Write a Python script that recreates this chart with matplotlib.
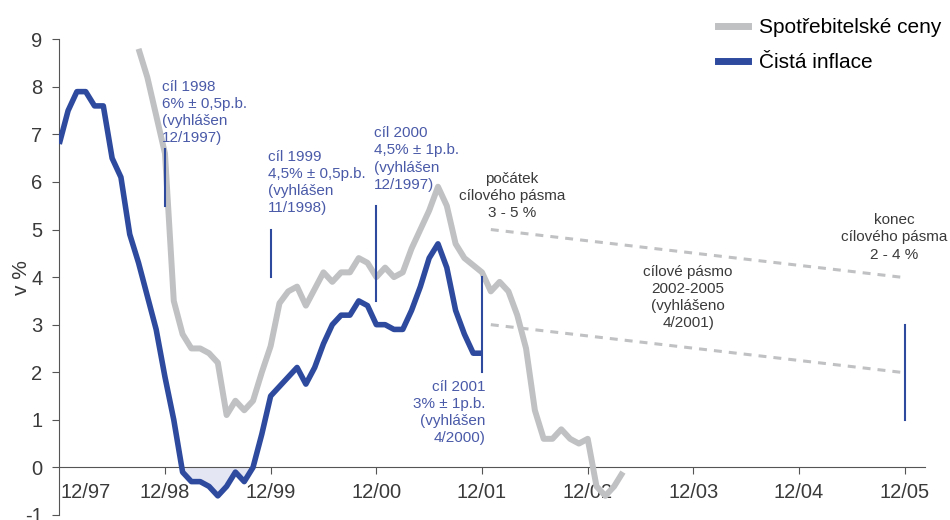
import numpy as np
import matplotlib
matplotlib.use('Agg')
import matplotlib.pyplot as plt
from matplotlib.lines import Line2D

plt.rcParams['font.family'] = ['Liberation Sans', 'DejaVu Sans']
plt.rcParams['axes.unicode_minus'] = False

# x = months counted from 12/1997
net_start = 0
net_infl = [6.8, 7.5, 7.9, 7.9, 7.6, 7.6, 6.5, 6.1, 4.9, 4.3,
            3.6, 2.9, 1.9, 1.0, -0.1, -0.3, -0.3, -0.4, -0.6, -0.4,
            -0.1, -0.3, 0.0, 0.7, 1.5, 1.7, 1.9, 2.1, 1.75, 2.1,
            2.6, 3.0, 3.2, 3.2, 3.5, 3.4, 3.0, 3.0, 2.9, 2.9,
            3.3, 3.8, 4.4, 4.7, 4.2, 3.3, 2.8, 2.4, 2.4]
cpi_start = 9
cpi = [8.8, 8.2, 7.4, 6.6, 3.5, 2.8, 2.5, 2.5, 2.4, 2.2,
       1.1, 1.4, 1.2, 1.4, 2.0, 2.55, 3.45, 3.7, 3.8, 3.4,
       3.75, 4.1, 3.9, 4.1, 4.1, 4.4, 4.3, 4.0, 4.2, 4.0,
       4.1, 4.6, 5.0, 5.4, 5.9, 5.5, 4.7, 4.4, 4.25, 4.1,
       3.7, 3.9, 3.7, 3.2, 2.5, 1.2, 0.6, 0.6, 0.8, 0.6,
       0.5, 0.6, -0.4, -0.6, -0.4, -0.1]

tick_months = [12, 24, 36, 48, 60, 72, 84, 96]
tick_labels = ['12/98', '12/99', '12/00', '12/01', '12/02', '12/03', '12/04', '12/05']

# announced targets (vertical bars)
target_month = [12, 24, 36, 48, 96]
target_low = [5.5, 4.0, 3.5, 2.0, 1.0]
target_high = [6.7, 5.0, 5.5, 4.0, 3.0]

# target band 2002-2005
band_month = [49, 95.5]
band_low = [3.0, 2.0]
band_high = [5.0, 4.0]

BLUE = '#2d4a9e'
GRAY = '#c0c1c3'
TBLUE = '#4a5aa8'
DARK = '#3a3a3a'

net_x = np.arange(net_start, net_start + len(net_infl))
cpi_x = np.arange(cpi_start, cpi_start + len(cpi))
net = np.array(net_infl)

fig = plt.figure(figsize=(9.5, 5.2), dpi=100)
ax = fig.add_axes([0.0624, 0.0098, 0.9113, 0.9146])

ax.fill_between(net_x, net, 0, where=net < 0, interpolate=True, color='#e4e6f4', lw=0, zorder=1)
ax.plot(cpi_x, cpi, color=GRAY, lw=4.3, solid_capstyle='butt', zorder=3, clip_on=False)
ax.plot(net_x, net, color=BLUE, lw=4.0, solid_capstyle='butt', zorder=4)

for m, lo, hi in zip(target_month, target_low, target_high):
    ax.plot([m, m], [lo, hi], color=BLUE, lw=1.5, zorder=5)

ax.plot(band_month, band_high, color=GRAY, lw=2.2, ls=(0, (2.6, 2.3)), zorder=2)
ax.plot(band_month, band_low, color=GRAY, lw=2.2, ls=(0, (2.6, 2.3)), zorder=2)

fs = 11
ls_ = 1.28
ax.text(11.7, 8.14, 'cíl 1998\n6% ± 0,5p.b.\n(vyhlášen\n12/1997)', color=TBLUE,
        fontsize=fs, va='top', ha='left', linespacing=ls_)
ax.text(23.7, 6.68, 'cíl 1999\n4,5% ± 0,5p.b.\n(vyhlášen\n11/1998)', color=TBLUE,
        fontsize=fs, va='top', ha='left', linespacing=ls_)
ax.text(35.7, 7.17, 'cíl 2000\n4,5% ± 1p.b.\n(vyhlášen\n12/1997)', color=TBLUE,
        fontsize=fs, va='top', ha='left', linespacing=ls_)
ax.text(48.4, 1.84, 'cíl 2001\n3% ± 1p.b.\n(vyhlášen\n4/2000)', color=TBLUE,
        fontsize=fs, va='top', ha='right', multialignment='right', linespacing=ls_)
ax.text(51.4, 6.21, 'počátek\ncílového pásma\n3 - 5 %', color=DARK,
        fontsize=fs, va='top', ha='center', linespacing=ls_)
ax.text(71.4, 4.25, 'cílové pásmo\n2002-2005\n(vyhlášeno\n4/2001)', color=DARK,
        fontsize=fs, va='top', ha='center', linespacing=ls_)
ax.text(100.8, 5.34, 'konec\ncílového pásma\n2 - 4 %', color=DARK,
        fontsize=fs, va='top', ha='right', multialignment='center', linespacing=ls_)

ax.set_xlim(0, 98.3)
ax.set_ylim(-1, 9)
ax.set_yticks(range(-1, 10))
ax.set_xticks(tick_months, tick_labels)
ax.set_xticks([3], ['12/97'], minor=True)
ax.spines['top'].set_visible(False)
ax.spines['right'].set_visible(False)
ax.spines['bottom'].set_position(('data', 0))
ax.spines['bottom'].set_color('#555555')
ax.spines['left'].set_color('#555555')
ax.tick_params(axis='both', which='major', length=5, color='#555555', labelcolor=DARK, labelsize=14.5)
ax.tick_params(axis='x', which='major', pad=6)
ax.tick_params(axis='x', which='minor', length=0, pad=11, labelcolor=DARK, labelsize=14.5)
ax.tick_params(axis='y', pad=7)
ax.set_ylabel('v %', fontsize=15, color=DARK)
ax.yaxis.set_label_coords(-0.033, 0.5)

handles = [Line2D([], [], color=GRAY, lw=5), Line2D([], [], color=BLUE, lw=5)]
fig.legend(handles, ['Spotřebitelské ceny', 'Čistá inflace'], loc='upper left',
           bbox_to_anchor=(718 / 950, 0.965), frameon=False, fontsize=15,
           handlelength=1.45, handletextpad=0.52, labelspacing=0.75,
           borderpad=0, borderaxespad=0)

fig.savefig('out.png', dpi=100)
